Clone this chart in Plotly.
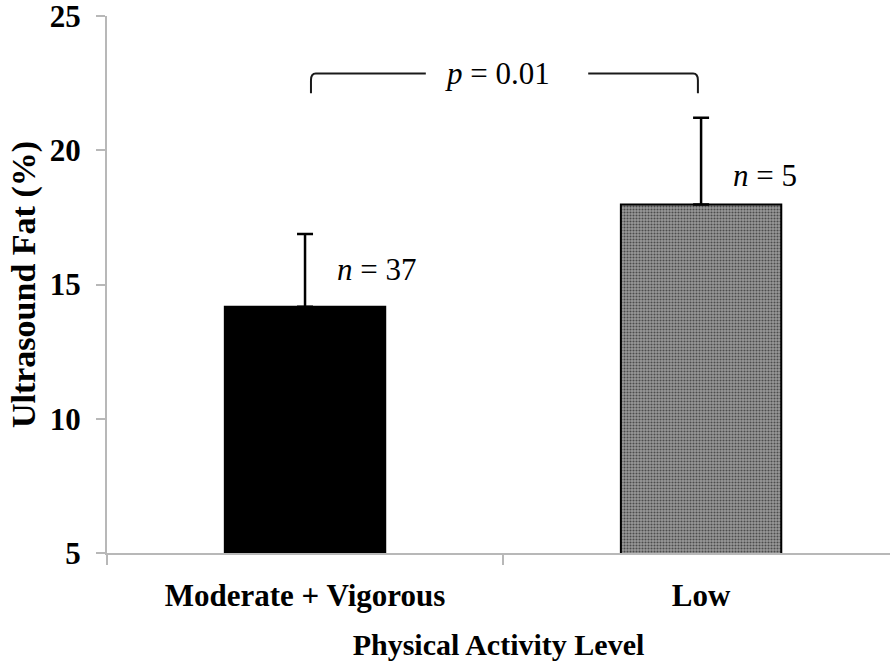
import plotly.graph_objects as go

# Ultrasound body fat by physical activity level
categories = ["Moderate + Vigorous", "Low"]
mean_fat = [14.17, 17.98]
sd_fat = [2.71, 3.23]
group_n = [37, 5]
p_value = 0.01
y_ticks = [5, 10, 15, 20, 25]

SERIF = "Liberation Serif"

fig = go.Figure()

fig.add_trace(go.Bar(
    x=categories,
    y=mean_fat,
    base=0,
    width=0.405,
    marker=dict(
        color=["#000000", "#9a9a9a"],
        line=dict(color="#000000", width=2),
        pattern=dict(
            shape=["", "."],
            fillmode="overlay",
            fgcolor="#000000",
            fgopacity=0.9,
            size=3,
            solidity=0.4,
        ),
    ),
    error_y=dict(
        type="data",
        array=sd_fat,
        arrayminus=[0, 0],
        symmetric=False,
        color="#000000",
        thickness=2.5,
        width=8,
    ),
    showlegend=False,
))

# group sizes beside each error bar
n_label_y = [15.55, 19.07]
for cat, n, y in zip(categories, group_n, n_label_y):
    fig.add_annotation(
        x=cat, y=y, xref="x", yref="y",
        text=f"<i>n</i> = {n}",
        showarrow=False, xanchor="left", yanchor="middle", xshift=30,
        font=dict(family=SERIF, size=31, color="#000000"),
    )

# significance bracket between the two groups
br_top, br_bot = 22.86, 22.12
x0, x1 = 0.015, 0.992
gap_l, gap_r = 0.305, 0.715
r = 0.012
bracket_left = (f"M {x0},{br_bot} L {x0},{br_top - 0.25} "
                f"Q {x0},{br_top} {x0 + r},{br_top} L {gap_l},{br_top}")
bracket_right = (f"M {gap_r},{br_top} L {x1 - r},{br_top} "
                 f"Q {x1},{br_top} {x1},{br_top - 0.25} L {x1},{br_bot}")
for path in (bracket_left, bracket_right):
    fig.add_shape(type="path", path=path, xref="x", yref="y",
                  line=dict(color="#1a1a1a", width=2))

fig.add_annotation(
    x=0.487, y=br_top, xref="x", yref="y",
    text=f"<i>p</i> = {p_value:.2f}",
    showarrow=False, xanchor="center", yanchor="middle",
    font=dict(family=SERIF, size=31, color="#000000"),
)

axis_grey = "#b8b8b8"
fig.update_layout(
    width=890, height=664,
    margin=dict(l=107, r=0, t=16, b=111),
    paper_bgcolor="white", plot_bgcolor="white",
    font=dict(family=SERIF, color="#000000"),
    xaxis=dict(
        type="category",
        range=[-0.5, 1.477],
        showline=True, linecolor=axis_grey, linewidth=2,
        ticks="outside", tickson="boundaries", ticklen=10, tickcolor=axis_grey, tickwidth=2,
        ticklabelstandoff=14,
        tickfont=dict(family=SERIF, size=31, color="#000000", weight="bold"),
        showgrid=False, zeroline=False,
        title=dict(text="<b>Physical Activity Level</b>", standoff=22,
                   font=dict(family=SERIF, size=30, color="#000000")),
    ),
    yaxis=dict(
        range=[5, 25.001],
        tickvals=y_ticks,
        showline=True, linecolor=axis_grey, linewidth=2,
        ticks="outside", ticklen=9, tickcolor=axis_grey, tickwidth=2,
        ticklabelstandoff=9,
        ticklabeloverflow="allow",
        tickfont=dict(family=SERIF, size=31, color="#000000", weight="bold"),
        showgrid=False, zeroline=False,
        title=dict(text="<b>Ultrasound Fat (%)</b>", standoff=4,
                   font=dict(family=SERIF, size=34, color="#000000")),
    ),
)

fig.write_html("out.html")
